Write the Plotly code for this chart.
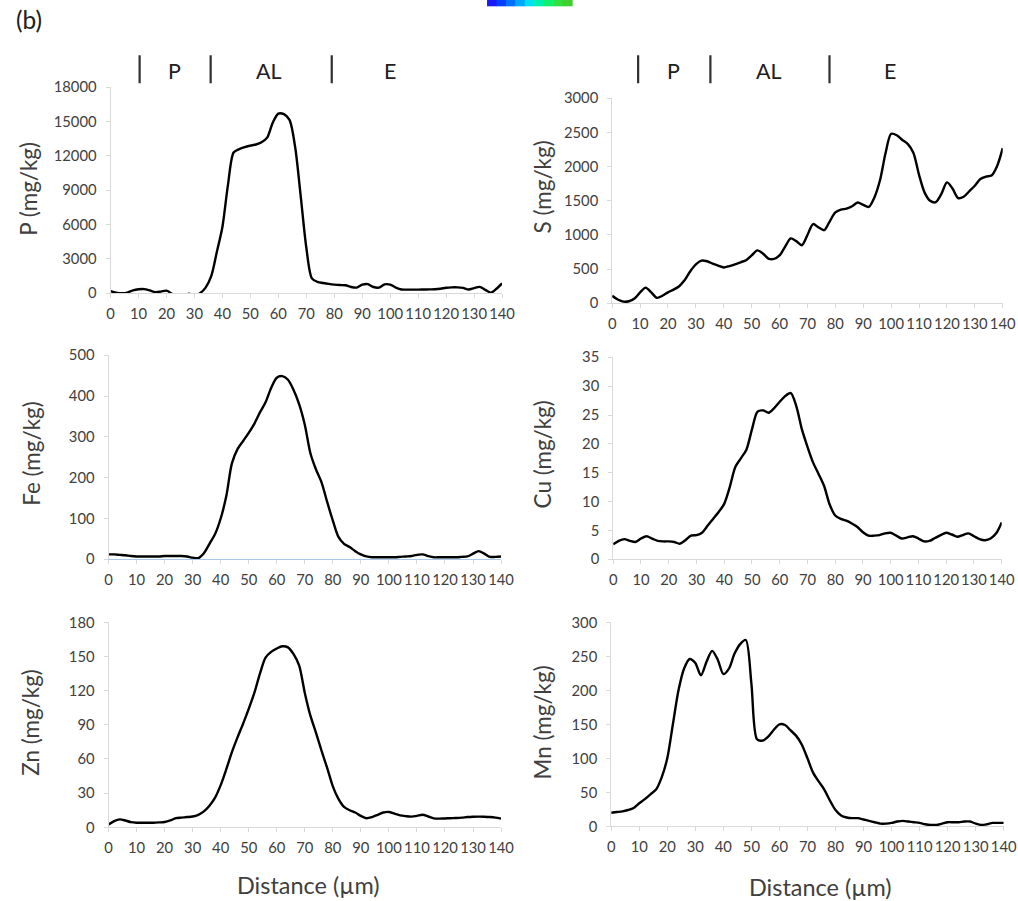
import plotly.graph_objects as go

W, H = 1018, 901

distance = list(range(0, 141, 2))

P_vals = [200, 50, 0, 60, 250, 350, 370, 250, 100, 150, 230, -50, -400, -300, -30, -250, 0, 500,
          1500, 3600, 5800, 9500, 12300, 12600, 12780, 12900, 13000, 13200, 13600, 14900, 15700,
          15650, 15150, 12800, 8500, 4000, 1300, 1000, 900, 820, 760, 720, 700, 550, 500, 750, 800,
          550, 500, 780, 760, 500, 330, 320, 320, 320, 330, 340, 350, 400, 480, 520, 520, 480, 330,
          450, 560, 300, 60, 400, 870]

S_vals = [110, 55, 25, 30, 70, 160, 230, 160, 80, 110, 160, 200, 250, 340, 470, 570, 625, 615, 580,
          550, 525, 545, 570, 600, 630, 700, 775, 730, 655, 650, 700, 830, 950, 910, 850, 1000, 1160,
          1110, 1070, 1200, 1330, 1370, 1385, 1420, 1475, 1440, 1410, 1550, 1800, 2200, 2480, 2460,
          2390, 2330, 2200, 1880, 1620, 1500, 1480, 1600, 1770, 1680, 1540, 1560, 1640, 1720, 1820,
          1855, 1870, 2010, 2270]

Fe_vals = [12, 12, 11, 10, 8, 7, 7, 7, 7, 7, 8, 8, 8, 8, 7, 4, 3, 15, 38, 62, 100, 155, 235, 270,
           290, 310, 332, 360, 385, 420, 445, 449, 440, 415, 380, 330, 260, 220, 188, 140, 95, 55,
           38, 30, 20, 12, 7, 5, 5, 5, 5, 5, 6, 7, 8, 11, 12, 8, 5, 5, 5, 5, 5, 6, 7, 14, 20, 14, 6,
           6, 7]

Cu_vals = [2.6, 3.2, 3.5, 3.2, 3.0, 3.6, 4.0, 3.6, 3.2, 3.1, 3.1, 3.0, 2.7, 3.3, 4.1, 4.2, 4.6, 5.8,
           7.0, 8.2, 9.6, 12.5, 16.0, 17.5, 19.0, 22.5, 25.6, 25.8, 25.4, 26.2, 27.3, 28.3, 28.8,
           26.5, 22.5, 19.5, 16.8, 14.8, 12.7, 9.5, 7.6, 7.0, 6.7, 6.2, 5.6, 4.7, 4.1, 4.1, 4.2, 4.5,
           4.6, 4.1, 3.6, 3.8, 4.0, 3.6, 3.1, 3.2, 3.7, 4.2, 4.6, 4.3, 3.9, 4.2, 4.5, 4.0, 3.5, 3.3,
           3.6, 4.5, 6.4]

Zn_vals = [2.5, 5.5, 7, 6, 4.5, 4, 4, 4, 4, 4.3, 4.7, 6, 8, 8.5, 9, 9.5, 11, 14, 19, 26, 37, 51, 66,
           79, 91, 104, 118, 135, 149, 154, 157, 159, 158, 152, 142, 118, 98, 83, 67, 52, 36, 25, 18,
           15, 13, 10, 8, 9, 11, 13, 13.5, 12, 10.5, 9.8, 9.4, 10, 11, 9.5, 7.8, 7.6, 7.8, 8, 8.2,
           8.5, 9, 9.3, 9.4, 9.3, 9, 8.5, 7.6]

Mn_vals = [20, 21, 22, 24, 27, 34, 40, 47, 54, 72, 100, 150, 200, 232, 246, 240, 222, 242, 258, 245,
           224, 232, 254, 268, 274, 210, 128, 126, 132, 142, 150, 149, 141, 133, 120, 100, 79, 66,
           54, 38, 24, 16, 13, 12, 12, 10, 8, 6, 4, 4, 5, 7, 8, 7, 6, 5, 3, 2, 2, 4, 6, 6, 6, 7, 7,
           4, 2, 3, 5, 5, 5]

x_ticks = list(range(0, 141, 10))

zone_names = ["P", "AL", "E"]
zone_bounds_left = [10.4, 35.8, 79.1]
zone_label_x_left = [23, 56.5, 100]
zone_bounds_right = [9.3, 35.2, 77.9]
zone_label_x_right = [22, 56, 99.5]

# calibration of the photographed page (page px -> picture px)
SCX, OX = 0.982, 2.6
SCY, OY = 0.98, 9.7


def px(x):
    return ((x - OX) / SCX) / W


def py(y):
    return 1 - ((y - OY) / SCY) / H


def fs(s):
    return s / SCY


panels = [
    # name, values, y max, y step, plot box in picture px (x0,x1,ytop,ybot), title pos px
    ("P (mg/kg)", P_vals, 18000, 3000, (109, 500, 87, 293), (27, 188)),
    ("S (mg/kg)", S_vals, 3000, 500, (610, 1000, 98, 303), (540, 187)),
    ("Fe (mg/kg)", Fe_vals, 500, 100, (107, 499, 355, 559), (30, 453)),
    ("Cu (mg/kg)", Cu_vals, 35, 5, (611, 999, 357, 559), (540, 454)),
    ("Zn (mg/kg)", Zn_vals, 180, 30, (107, 499, 622, 827), (29, 722)),
    ("Mn (mg/kg)", Mn_vals, 300, 50, (609, 1001, 622, 826), (540, 722)),
]

FONT = "Lato, Carlito, Calibri, sans-serif"
AXC = "#d9d9d9"
TXT = "#404040"

fig = go.Figure()
layout = dict(
    width=W, height=H, margin=dict(l=0, r=0, t=0, b=0),
    paper_bgcolor="white", plot_bgcolor="white", showlegend=False,
    font=dict(family=FONT, color=TXT),
)
annotations = []
shapes = []

for i, (title, vals, ymax, ystep, (x0, x1, yt, yb), (tx, ty)) in enumerate(panels):
    n = i + 1
    xa = "xaxis" if n == 1 else f"xaxis{n}"
    ya = "yaxis" if n == 1 else f"yaxis{n}"
    xr = "x" if n == 1 else f"x{n}"
    yr = "y" if n == 1 else f"y{n}"
    fig.add_trace(go.Scatter(x=distance, y=vals, mode="lines",
                             line=dict(color="black", width=2.4, shape="spline", smoothing=0.8),
                             xaxis=xr, yaxis=yr, hoverinfo="skip"))
    layout[xa] = dict(domain=[px(x0), px(x1)], range=[0, 140], anchor=yr,
                      tickmode="array", tickvals=x_ticks, ticktext=[str(t) for t in x_ticks],
                      tickangle=0, ticklabelstandoff=3,
                      showline=True, linecolor="#a9c8e8" if title.startswith("Fe") else AXC,
                      linewidth=1, ticks="outside", ticklen=4, tickcolor=AXC,
                      showgrid=False, zeroline=False,
                      tickfont=dict(family=FONT, size=fs(14.5), color=TXT), fixedrange=True)
    layout[ya] = dict(domain=[py(yb), py(yt)], range=[0, ymax], anchor=xr,
                      tickmode="linear", tick0=0, dtick=ystep, tickformat="d",
                      ticklabelstandoff=6,
                      showline=True, linecolor=AXC, linewidth=1, ticks="outside", ticklen=4,
                      tickcolor=AXC, showgrid=False, zeroline=False,
                      tickfont=dict(family=FONT, size=fs(14.5), color=TXT), fixedrange=True)
    annotations.append(dict(text=title, x=px(tx), y=py(ty), xref="paper", yref="paper",
                            textangle=-90, showarrow=False, xanchor="center", yanchor="middle",
                            font=dict(family=FONT, size=fs(22), color=TXT)))

# zone markers above the top panels
for xr, bounds, labx in (("x", zone_bounds_left, zone_label_x_left),
                         ("x2", zone_bounds_right, zone_label_x_right)):
    for b in bounds:
        shapes.append(dict(type="line", xref=xr, yref="paper", x0=b, x1=b,
                           y0=py(83), y1=py(55), line=dict(color="#303030", width=2.2)))
    for name, lx in zip(zone_names, labx):
        annotations.append(dict(text=name, x=lx, y=py(71), xref=xr, yref="paper",
                                showarrow=False, xanchor="center", yanchor="middle",
                                font=dict(family=FONT, size=fs(21), color="#202020")))

# x-axis titles
for cx, cy in ((307, 885), (818, 887)):
    annotations.append(dict(text="Distance (µm)", x=px(cx), y=py(cy), xref="paper",
                            yref="paper", showarrow=False, xanchor="center", yanchor="middle",
                            font=dict(family=FONT, size=fs(23), color=TXT)))

# panel tag
annotations.append(dict(text="(b)", x=px(13), y=py(19), xref="paper", yref="paper",
                        showarrow=False, xanchor="left", yanchor="middle",
                        font=dict(family=FONT, size=fs(24), color="#202020")))

# cropped colour-bar fragment at the top
bar_colors = ["#1a1aff", "#0040ff", "#0070ff", "#00a8ff", "#00e0f0", "#00f0b0", "#10f070", "#30e040", "#40d030"]
bx0, bx1 = 485, 570
step = (bx1 - bx0) / len(bar_colors)
for k, c in enumerate(bar_colors):
    shapes.append(dict(type="rect", xref="paper", yref="paper",
                       x0=px(bx0 + k * step), x1=px(bx0 + (k + 1) * step + 0.5),
                       y0=py(6), y1=1.05, line=dict(width=0), fillcolor=c, layer="above"))

layout["annotations"] = annotations
layout["shapes"] = shapes
fig.update_layout(**layout)

post = ("document.documentElement.style.margin='0';document.body.style.margin='0';"
        "document.body.style.overflow='hidden';"
        "var d=document.getElementById('{plot_id}');d.style.position='absolute';"
        "d.style.left='0px';d.style.top='0px';")
fig.write_html("out.html", post_script=post, config={"displayModeBar": False})
